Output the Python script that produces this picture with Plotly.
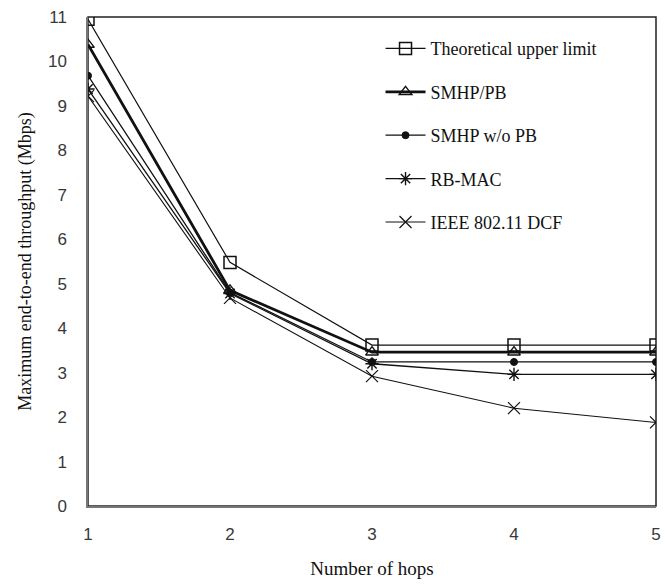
import plotly.graph_objects as go

hops = [1, 2, 3, 4, 5]
theoretical = [10.95, 5.48, 3.62, 3.62, 3.62]
smhp_pb = [10.38, 4.85, 3.46, 3.46, 3.46]
smhp_wo_pb = [9.68, 4.80, 3.24, 3.24, 3.24]
rb_mac = [9.38, 4.78, 3.20, 2.96, 2.96]
ieee_dcf = [9.22, 4.68, 2.92, 2.20, 1.88]

series = [
    ("Theoretical upper limit", theoretical, "square-open", 12, 1.2, 1.5),
    ("SMHP/PB", smhp_pb, "triangle-up-open", 11, 2.8, 1.4),
    ("SMHP w/o PB", smhp_wo_pb, "circle", 7, 1.3, 1),
    ("RB-MAC", rb_mac, "asterisk-open", 11, 1.3, 1.4),
    ("IEEE 802.11 DCF", ieee_dcf, "x-thin-open", 12, 1.1, 1.2),
]

fig = go.Figure()
for i, (name, vals, sym, size, lw, mlw) in enumerate(series):
    fig.add_trace(go.Scatter(
        x=hops, y=vals, name=name, mode="lines+markers",
        legendgroup=f"g{i}",
        line=dict(color="#111111", width=lw),
        marker=dict(symbol=sym, size=size, color="#111111",
                    line=dict(color="#111111", width=mlw)),
    ))

serif = "Liberation Serif, Times New Roman, serif"
sans = "Liberation Sans, Arial, sans-serif"

fig.update_layout(
    width=665, height=586,
    margin=dict(l=88, r=4, t=17, b=80),
    paper_bgcolor="white", plot_bgcolor="white",
    showlegend=True,
    legend=dict(
        x=0.515, y=0.973, xanchor="left", yanchor="top",
        font=dict(family=serif, size=18, color="#111111"),
        bgcolor="rgba(0,0,0,0)", borderwidth=0,
        traceorder="grouped", tracegroupgap=17,
        itemwidth=40,
    ),
    xaxis=dict(
        range=[1, 5], tickvals=hops, ticks="", showgrid=False, zeroline=False,
        showline=True, linecolor="#777777", linewidth=1.5,
        ticklabelstandoff=12, ticklabeloverflow="allow",
        tickfont=dict(family=sans, size=17, color="#383838"),
        title=dict(text="Number of hops", font=dict(family=serif, size=19, color="#111111"), standoff=19),
    ),
    yaxis=dict(
        range=[0, 11], dtick=1, ticks="", showgrid=False, zeroline=False,
        showline=True, linecolor="#777777", linewidth=1.5,
        ticklabelstandoff=16, ticklabeloverflow="allow",
        tickfont=dict(family=sans, size=17, color="#383838"),
        title=dict(text="Maximum end-to-end throughput (Mbps)", font=dict(family=serif, size=18, color="#111111"), standoff=12),
    ),
)

fig.add_shape(type="rect", xref="paper", yref="paper", x0=0, y0=0, x1=1, y1=1,
              line=dict(color="#222222", width=1.5), layer="below")

fig.write_html("out.html")
